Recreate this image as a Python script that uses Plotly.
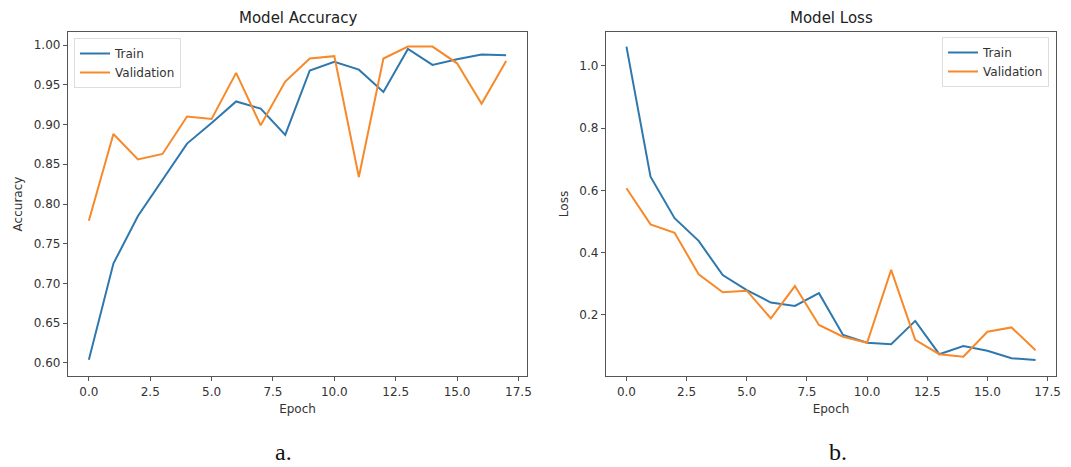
import plotly.graph_objects as go

epochs = list(range(18))

acc_train = [0.604, 0.725, 0.785, 0.830, 0.876, 0.902, 0.929, 0.920, 0.887, 0.968,
             0.979, 0.969, 0.941, 0.995, 0.975, 0.982, 0.988, 0.987]
acc_val = [0.779, 0.888, 0.856, 0.863, 0.910, 0.907, 0.965, 0.899, 0.954, 0.983,
           0.986, 0.834, 0.983, 0.998, 0.998, 0.977, 0.926, 0.980]

loss_train = [1.062, 0.644, 0.511, 0.438, 0.328, 0.280, 0.240, 0.229, 0.270, 0.136,
              0.111, 0.106, 0.181, 0.074, 0.100, 0.085, 0.061, 0.055]
loss_val = [0.607, 0.491, 0.464, 0.331, 0.273, 0.278, 0.189, 0.293, 0.168, 0.130,
            0.111, 0.345, 0.120, 0.074, 0.066, 0.146, 0.160, 0.087]

x_ticks = [0, 2.5, 5, 7.5, 10, 12.5, 15, 17.5]
acc_ticks = [0.60, 0.65, 0.70, 0.75, 0.80, 0.85, 0.90, 0.95, 1.00]
loss_ticks = [0.2, 0.4, 0.6, 0.8, 1.0]

BLUE = "#2f78ad"
ORANGE = "#f7892a"
OFF = 8  # page body margin
W, H = 1071 - OFF, 467 - OFF


def px(x):
    return (x - OFF) / W


def py(y):
    return 1 - (y - OFF) / H


fig = go.Figure()
fig.add_trace(go.Scatter(x=epochs, y=acc_train, mode="lines", name="Train",
                         line=dict(color=BLUE, width=2), xaxis="x", yaxis="y", legend="legend"))
fig.add_trace(go.Scatter(x=epochs, y=acc_val, mode="lines", name="Validation",
                         line=dict(color=ORANGE, width=2), xaxis="x", yaxis="y", legend="legend"))
fig.add_trace(go.Scatter(x=epochs, y=loss_train, mode="lines", name="Train",
                         line=dict(color=BLUE, width=2), xaxis="x2", yaxis="y2", legend="legend2"))
fig.add_trace(go.Scatter(x=epochs, y=loss_val, mode="lines", name="Validation",
                         line=dict(color=ORANGE, width=2), xaxis="x2", yaxis="y2", legend="legend2"))

ax_common = dict(showline=True, mirror=True, linecolor="#555555", linewidth=1.3,
                 ticks="outside", ticklen=4, tickcolor="#555555", showgrid=False,
                 zeroline=False, automargin=False,
                 tickfont=dict(family="DejaVu Sans", size=12, color="#333333"))

ydom = [py(376), py(32)]
fig.update_layout(
    width=W, height=H, margin=dict(l=0, r=0, t=0, b=0, autoexpand=False),
    paper_bgcolor="white", plot_bgcolor="white",
    font=dict(family="DejaVu Sans", color="#333333"),
    xaxis=dict(domain=[px(68), px(527)], range=[-0.85, 17.85], tickvals=x_ticks,
               tickformat=".1f", anchor="y",
               title=dict(text="Epoch", font=dict(size=12), standoff=7), **ax_common),
    yaxis=dict(domain=ydom, range=[0.5836, 1.0164], tickvals=acc_ticks, tickformat=".2f",
               anchor="x", title=dict(text="Accuracy", font=dict(size=12), standoff=8), **ax_common),
    xaxis2=dict(domain=[px(606), px(1056)], range=[-0.85, 17.85], tickvals=x_ticks,
                tickformat=".1f", anchor="y2",
                title=dict(text="Epoch", font=dict(size=12), standoff=7), **ax_common),
    yaxis2=dict(domain=ydom, range=[0.004, 1.109], tickvals=loss_ticks, tickformat=".1f",
                anchor="x2", title=dict(text="Loss", font=dict(size=12), standoff=8), **ax_common),
    legend=dict(x=px(74), y=py(38), xanchor="left", yanchor="top",
                bgcolor="rgba(255,255,255,0.8)", bordercolor="#dddddd", borderwidth=1,
                font=dict(size=12, color="#333333"), itemwidth=30, tracegroupgap=0),
    legend2=dict(x=px(1049), y=py(37), xanchor="right", yanchor="top",
                 bgcolor="rgba(255,255,255,0.8)", bordercolor="#dddddd", borderwidth=1,
                 font=dict(size=12, color="#333333"), itemwidth=30, tracegroupgap=0),
    annotations=[
        dict(text="Model Accuracy", x=px((68 + 527) / 2), y=py(18), xref="paper", yref="paper",
             xanchor="center", yanchor="middle",
             showarrow=False, font=dict(size=15, color="#222222")),
        dict(text="Model Loss", x=px((606 + 1056) / 2), y=py(18), xref="paper", yref="paper",
             xanchor="center", yanchor="middle",
             showarrow=False, font=dict(size=15, color="#222222")),
        dict(text="a.", x=px(283), y=py(452), xref="paper", yref="paper", showarrow=False,
             xanchor="center", yanchor="middle",
             font=dict(family="Liberation Serif", size=24, color="#111111")),
        dict(text="b.", x=px(838), y=py(452), xref="paper", yref="paper", showarrow=False,
             xanchor="center", yanchor="middle",
             font=dict(family="Liberation Serif", size=24, color="#111111")),
    ],
)

fig.write_html("out.html")
